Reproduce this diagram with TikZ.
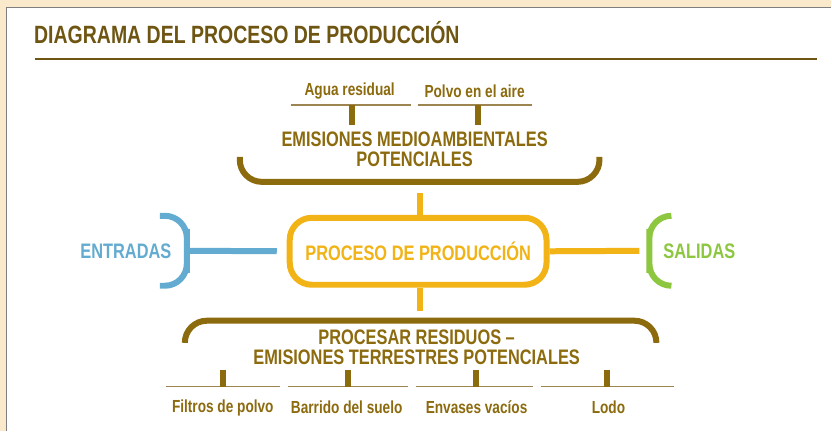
\documentclass[tikz,border=0pt]{standalone}
\usepackage{fontspec}
\setmainfont{Liberation Sans}
\newfontfamily\condfont[FakeStretch=0.78]{Liberation Sans}

\definecolor{beige}{HTML}{FAEACB}
\definecolor{frame}{HTML}{7F7F7F}
\definecolor{titlebrown}{HTML}{6E5512}
\definecolor{olive}{HTML}{8C6A0E}
\definecolor{thinbrown}{HTML}{9C8550}
\definecolor{procyellow}{HTML}{F1B315}
\definecolor{inblue}{HTML}{63ABD0}
\definecolor{outgreen}{HTML}{8DC63F}

\tikzset{
  small/.style={font=\condfont\bfseries\fontsize{17.5}{18}\selectfont, text=olive, inner sep=0pt},
  big/.style={font=\condfont\bfseries\fontsize{21}{20}\selectfont, inner sep=0pt, align=center},
  stem/.style={olive, line width=6pt},
  thin/.style={thinbrown, line width=1.3pt},
  brace/.style={line width=6pt, rounded corners=22pt},
  procbox/.style={draw=procyellow, line width=6pt, rounded corners=22pt, fill=white,
    minimum width=257pt, minimum height=67pt, text=procyellow, inner sep=0pt}
}

\begin{document}
\begin{tikzpicture}[x=1pt, y=-1pt]
  % page and frame
  \fill[beige] (0,0) rectangle (832,431);
  \fill[white] (7,8) rectangle (832,431);
  \draw[frame, line width=1.5pt] (6.75,431) -- (6.75,7.75) -- (832,7.75);
  \useasboundingbox (0,0) rectangle (832,431);

  % title
  \node[anchor=west, inner sep=0pt, text=titlebrown,
        font=\condfont\bfseries\fontsize{25}{25}\selectfont] (title) at (34,33) {DIAGRAMA DEL PROCESO DE PRODUCCIÓN};
  \coordinate (ruleL) at (35,59);
  \coordinate (ruleR) at (818,59);
  \draw[titlebrown, line width=2pt] (ruleL) -- (ruleR);

  % centre
  \node[procbox, font=\condfont\bfseries\fontsize{21}{20}\selectfont] (proc) at (418.5,251.5) {PROCESO DE PRODUCCIÓN};
  \node[big, text=inblue] (entradas) at (126,251) {ENTRADAS};
  \node[big, text=outgreen] (salidas) at (700,251) {SALIDAS};

  \draw[brace, inblue] (160,216) -| (187,251) |- (160,286);
  \coordinate (inbr) at (187,251);
  \draw[inblue, line width=6pt, shorten >=10pt] (inbr) -- (proc.west);

  \draw[brace, outgreen] (672,216) -| (650,251) |- (672,286);
  \coordinate (outbr) at (650,251);
  \draw[procyellow, line width=6pt, shorten >=10pt] (proc.east) -- (outbr);

  % emisiones medioambientales
  \node[big, text=olive] (emis) at (415,149) {EMISIONES MEDIOAMBIENTALES\\POTENCIALES};
  \draw[brace, olive] (240,157) |- (420,182) -| (600,157);
  \coordinate (emisbr) at (420,193);
  \draw[procyellow, line width=6pt] (emisbr) -- (emisbr |- proc.north);

  \node[small] (agua) at (350,91) {Agua residual};
  \node[small] (polvo) at (475,91) {Polvo en el aire};
  \draw[thin] (291,105) -- (411,105);
  \draw[thin] (418,105) -- (532,105);
  \coordinate (aguaS) at (352,105);
  \coordinate (polvoS) at (478,105);
  \draw[stem] (aguaS) -- (352,125);
  \draw[stem] (polvoS) -- (478,125);

  % residuos
  \node[big, text=olive] (resid) at (417,348) {PROCESAR RESIDUOS –\\EMISIONES TERRESTRES POTENCIALES};
  \coordinate (residbr) at (420,311);
  \draw[procyellow, line width=6pt] (residbr |- proc.south) -- (residbr);
  \draw[brace, olive] (185,342) |- (420,321) -| (657,342);

  \node[small] (filtros) at (223,408) {Filtros de polvo};
  \node[small] (barrido) at (347,408) {Barrido del suelo};
  \node[small] (envases) at (477,408) {Envases vacíos};
  \node[small] (lodo) at (609,408) {Lodo};
  \draw[thin] (166,387) -- (280,387);
  \draw[thin] (288,387) -- (408,387);
  \draw[thin] (416,387) -- (533,387);
  \draw[thin] (541,387) -- (675,387);
  \foreach \x in {223,348,476,608}
    \draw[stem] (\x,370) -- (\x,387);
\end{tikzpicture}
\end{document}
